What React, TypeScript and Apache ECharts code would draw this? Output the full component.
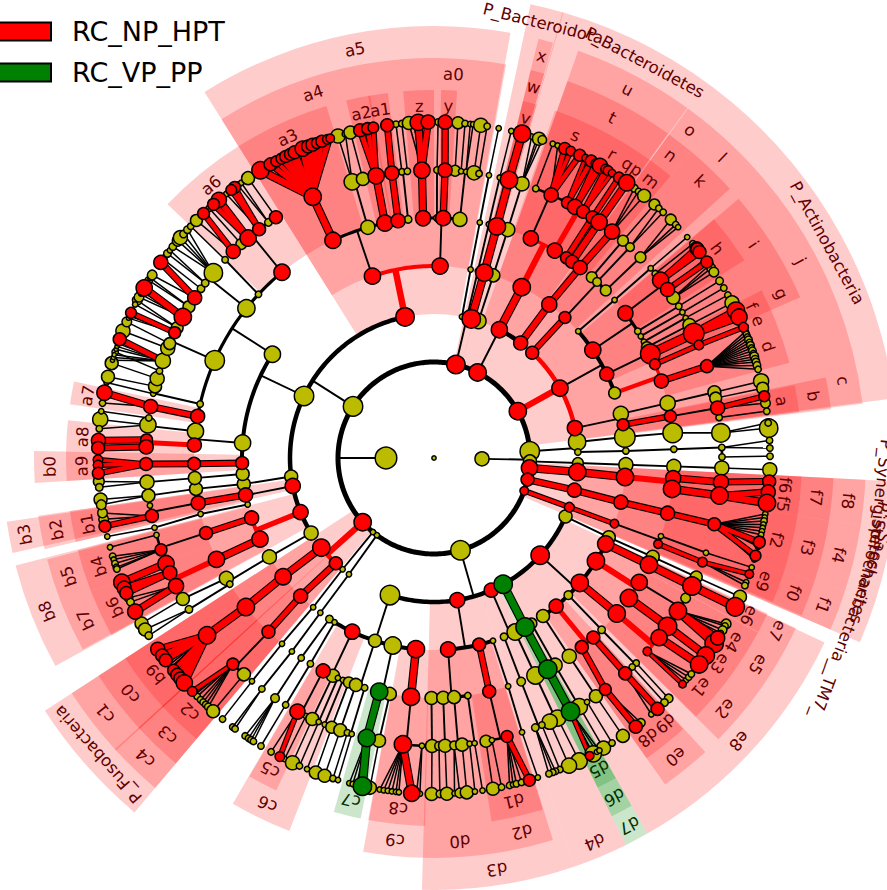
import React, { useEffect, useRef } from "react";
import * as echarts from "echarts";

type Node = { a: number; s: number; c: string; k: Node[] };
const y = (a: number, s: number, ...k: Node[]): Node => ({ a, s, c: "y", k });
const r = (a: number, s: number, ...k: Node[]): Node => ({ a, s, c: "r", k });
const g = (a: number, s: number, ...k: Node[]): Node => ({ a, s, c: "g", k });

const CLASS_A = "RC_NP_HPT";
const CLASS_B = "RC_VP_PP";
const COLORS: Record<string, string> = { y: "#bbbb00", r: "#ff0000", g: "#008000" };
const FORCED_BLACK_ARCS = [27];

// [label, level, start angle, end angle, colour key]
const phylumSectors: [string, number, number, number, string][] = [
  ["P_Bacteroidota", 2, 12, 16.2, "r"],
  ["P_Bacteroidetes", 2, 16.1, 40, "r"],
  ["P_Actinobacteria", 2, 40, 82.6, "r"],
  ["P_Synergistetes", 2, 92.9, 99, "r"],
  ["P_Spirochaetes", 2, 99, 108, "r"],
  ["P_Saccharibacteria__TM7_", 2, 108, 113.4, "r"],
  ["P_Fusobacteria", 2, 220.2, 237, "r"],
];
const classSectors: [string, number, number, number, string][] = [
  ["x", 3, 14, 16, "r"], ["u", 3, 19.5, 35.9, "r"], ["o", 3, 36, 40, "r"], ["l", 3, 40, 47.7, "r"],
  ["j", 3, 47.7, 75.8, "r"], ["c", 3, 75.8, 82.8, "r"], ["f8", 3, 92.9, 99, "r"], ["f4", 3, 99, 108, "r"],
  ["f1", 3, 108, 113.4, "r"], ["e8", 3, 115.3, 150.4, "r"], ["d7", 3, 150.4, 153.6, "g"], ["d4", 3, 153.6, 161, "r"],
  ["d3", 3, 161, 181.6, "r"], ["b8", 3, 241.2, 255.6, "r"], ["b3", 3, 257.3, 261.5, "r"], ["c1", 3, 227.4, 237, "r"],
  ["c4", 3, 220.2, 227.6, "r"], ["a5", 3, 327.9, 370.2, "r"],
];
const orderSectors: [string, number, number, number, string][] = [
  ["w", 4, 14, 16, "r"], ["t", 4, 19.5, 35.8, "r"], ["n", 4, 36, 40, "r"], ["k", 4, 40, 47.7, "r"],
  ["i", 4, 49.6, 63, "r"], ["g", 4, 63, 66.3, "r"], ["b", 4, 78.4, 83, "r"], ["f7", 4, 92.9, 99, "r"],
  ["f3", 4, 99, 108, "r"], ["f0", 4, 108, 113.2, "r"], ["e7", 4, 115.2, 118.2, "r"], ["e5", 4, 118.2, 126.8, "r"],
  ["e2", 4, 126.8, 134.7, "r"], ["e0", 4, 137.3, 144.7, "r"], ["d6", 4, 150.4, 153.6, "g"], ["d2", 4, 162.7, 170.8, "r"],
  ["d0", 4, 170.8, 181.5, "r"], ["c9", 4, 181.5, 190.2, "r"], ["c6", 4, 201.2, 210.2, "r"], ["b7", 4, 241.4, 248.8, "r"],
  ["b5", 4, 248.8, 255.3, "r"], ["b2", 4, 256.8, 261.7, "r"], ["c0", 4, 227.4, 237, "r"], ["c3", 4, 220.2, 227.6, "r"],
  ["b0", 4, 266.4, 271, "r"], ["a4", 4, 327.9, 355.4, "r"], ["a0", 4, 355.4, 370.4, "r"],
];
const familySectors: [string, number, number, number, string][] = [
  ["v", 5, 14, 16.2, "r"], ["s", 5, 19.2, 28.2, "r"], ["r", 5, 28.2, 32.5, "r"], ["q", 5, 32.5, 34.2, "r"],
  ["p", 5, 34.2, 36, "r"], ["m", 5, 36, 40, "r"], ["h", 5, 49.5, 57.5, "r"], ["f", 5, 62.9, 66, "r"],
  ["e", 5, 66, 68.1, "r"], ["d", 5, 68.1, 75, "r"], ["a", 5, 78.6, 82.8, "r"], ["f6", 5, 92.9, 96, "r"],
  ["f5", 5, 96, 99, "r"], ["f2", 5, 99, 108, "r"], ["e9", 5, 108, 113, "r"], ["e6", 5, 115, 118.2, "r"],
  ["e4", 5, 118.3, 124.8, "r"], ["e3", 5, 124.8, 126.7, "r"], ["e1", 5, 126.7, 134.6, "r"], ["d9", 5, 137.4, 140.4, "r"],
  ["d8", 5, 140.4, 144.7, "r"], ["d5", 5, 150.4, 153.6, "g"], ["d1", 5, 162.8, 171, "r"], ["c8", 5, 181.4, 190.3, "r"],
  ["c7", 5, 191.5, 195.8, "g"], ["c5", 5, 205.4, 210.1, "r"], ["b6", 5, 241.2, 248.7, "r"], ["b4", 5, 248.7, 255.5, "r"],
  ["b1", 5, 256.8, 261.7, "r"], ["c2", 5, 220.2, 227.6, "r"], ["b9", 5, 227.4, 237, "r"], ["a9", 5, 266.4, 271, "r"],
  ["a8", 5, 271, 275.9, "r"], ["a7", 5, 278.4, 282, "r"], ["a6", 5, 313.6, 327.9, "r"], ["a3", 5, 327.9, 343, "r"],
  ["a2", 5, 346.2, 350, "r"], ["a1", 5, 349.7, 352.8, "r"], ["z", 5, 355.2, 360, "r"], ["y", 5, 361.1, 363.6, "r"],
];

const bacteroidota = r(13.2, 17,
  y(11.2, 5, y(11, 5, y(11, 5, y(11, 5, y(11.1, 5))))),
  y(13.2, 5, y(13.2, 5, y(13.2, 5, y(13.2, 5, y(13.3, 5))))),
  r(15, 17, r(15.2, 16, r(15.2, 16, r(15.1, 16, r(15.2, 16))))),
  y(18, 14, y(18, 12, y(17.9, 13, y(17.8, 13, y(16.9, 5), y(17.8, 7), y(18.2, 12), y(18.8, 8))))));

const bacteroidetes = r(27, 16,
  r(27, 15, r(27.2, 16,
    r(23.8, 14,
      y(20.7, 6, y(20.7, 5)),
      r(24, 13, y(21.6, 5), r(22.9, 11), r(24, 9), r(25.7, 11)),
      r(27.6, 11, r(26.8, 7), r(27.9, 11))),
    r(30.2, 14,
      r(29.3, 14, r(28.7, 8), r(29.6, 14)),
      r(31.2, 12, r(30.7, 9), r(31.2, 9), r(32, 7))),
    r(33.5, 11, r(33.4, 12, r(33.4, 10))),
    r(35.1, 12, r(35, 15, r(35, 15))))),
  r(37, 13, r(36.9, 14, r(37.5, 13, r(38.2, 14, y(36.6, 7), y(37.5, 6), y(38.7, 12))))));

const actinobacteria = r(60.8, 16,
  r(43, 12, r(43, 11,
    y(41.1, 10, y(41, 10, y(41, 10))),
    y(42.8, 8, y(42.9, 8, y(42, 6), y(43, 6))),
    y(45.7, 10, y(45.8, 10, y(44.8, 10), y(46, 6), y(46.6, 5))))),
  r(61, 15,
    y(48.7, 5, y(48.8, 5, y(48.8, 5, y(48.9, 5)))),
    r(55.8, 15,
      r(52.9, 14,
        y(50.2, 6, y(50.4, 6)),
        r(51.9, 15, r(51.4, 12), r(51.6, 12), r(52.2, 12)),
        r(54.2, 13, r(54.3, 11), y(53.7, 5)),
        y(56.2, 12, y(55, 8), y(55.6, 8), y(56.4, 9))),
      y(58.1, 6, y(58.2, 6, y(58.2, 7))),
      y(59.5, 5, y(59.6, 5, y(59.6, 6))),
      y(61, 5, y(60.9, 5, y(61, 6)))),
    r(64.1, 13,
      y(62.5, 10, y(62.5, 12, y(62.5, 13))),
      r(64.3, 18, r(64.4, 19, r(64, 16), r(65.2, 15)))),
    y(70.2, 11,
      r(67, 10, r(66.9, 9, r(67.1, 9))),
      r(71.3, 13, r(71.4, 12,
        y(67.9, 6), y(68.4, 6), y(68.9, 6), y(69.4, 7), y(69.9, 6), y(70.4, 7), y(70.9, 6),
        y(71.4, 7), y(71.9, 6), y(72.4, 8), y(72.9, 7), y(73.4, 7), y(74, 7), y(74.7, 6))))),
  r(78, 14,
    y(76.7, 14, y(76.8, 14, y(76.8, 12, y(76.8, 14)), y(78, 11, y(78, 11)))),
    r(80, 11, r(80, 11, r(80, 13, r(79.4, 10), y(80.6, 9)), y(81.9, 6, y(82, 6))))));

const olive86 = y(86, 18,
  y(83.6, 16, y(83.7, 19, y(84, 18, y(85, 17, y(84.9, 17), y(84, 6))))),
  y(87.6, 6, y(87.9, 6, y(87.9, 6,
    y(87.9, 6, y(87, 6), y(88.3, 6)),
    y(89.8, 6, y(89.7, 6))))));
const olive92 = y(92, 12, y(92, 10, y(92, 13, y(92, 13, y(92, 13, y(92, 13))))));

const synergistetes = r(96, 15, r(95.6, 16, r(95.7, 16,
  r(94.8, 14, r(94.8, 14, r(94, 12))),
  r(97.4, 16, r(97.5, 16, r(95.8, 13), r(97.7, 16))))));
const spirochaetes = r(103, 12, r(102.9, 13, r(103.3, 13, r(103.3, 13, r(103.3, 12,
  y(99.6, 5), y(100.2, 5), y(100.8, 6), y(101.4, 5), y(102, 5), y(102.6, 5), y(103.2, 5),
  r(104.5, 11), y(105.3, 5), r(106.9, 10), y(107.6, 5))))));
const saccharibacteria = r(110, 8, r(110, 9, r(110, 8,
  y(109, 5, y(109.2, 5, y(109, 5))),
  r(111, 8, r(111.2, 9, r(110.2, 8), y(111.7, 5), y(112.3, 6))))));

const bottomClade = y(164, 18,
  y(114, 12, y(114.4, 12, y(114.3, 12, y(114.4, 11, y(114.4, 12))))),
  r(132.5, 17,
    r(116.6, 15, r(116.4, 16, r(116.4, 17, r(116.3, 17)))),
    r(122.5, 16,
      r(121.2, 15,
        r(122.1, 16, r(123.5, 17), r(122.4, 13), y(119.6, 9), y(120, 6), y(120.8, 8), y(121.4, 5)),
        y(119.1, 9)),
      r(125.7, 16, r(125.8, 17, r(126, 16)))),
    r(130.6, 16, r(130.4, 16,
      r(132.2, 8, r(132.3, 7), y(131.4, 5), y(130.7, 6), y(130, 6)),
      r(128.6, 15, r(127.9, 16)))),
    y(135.6, 8, y(135.7, 7, y(135.4, 6, y(135.7, 8)), y(136.5, 6, y(136.7, 7)))),
    r(140.5, 13,
      r(138.4, 12, r(138.4, 12, r(138.3, 12), y(139.7, 5))),
      r(142, 12, r(143.5, 11, r(143.1, 12), y(142.6, 5), y(142, 8)))),
    y(145.4, 12, y(145.7, 13, y(145.8, 12, y(145.8, 12))))),
  r(156.6, 13,
    y(149.5, 10, y(149.7, 13,
      y(149.7, 15, y(149.7, 13)),
      y(147.9, 5, y(148, 6)))),
    y(155, 15, y(155, 16,
      y(154.6, 15, y(154.4, 15)),
      y(156.3, 14, y(156.3, 14)))),
    y(158.6, 7, y(158.7, 8,
      y(158, 6, y(158, 6)),
      y(159.4, 7, y(158.8, 6), y(159.3, 6), y(160, 6))))),
  g(151.3, 17, g(151.7, 17, g(151.7, 17, g(151.7, 17, y(151.7, 15), r(152.4, 8), y(151, 5), y(150.5, 5))))),
  r(170.7, 14,
    r(175.8, 14,
      y(180.6, 12, y(180.4, 12, y(180.4, 12))),
      y(177.8, 12, y(179, 8, y(179, 7)), y(177.8, 12, y(177.8, 12))),
      y(175.2, 12, y(176, 8, y(176.5, 5), y(175.6, 9)), y(174.4, 12, y(174.4, 12))),
      y(171.9, 6, y(172.9, 5, y(173, 5)), y(171.9, 5, y(171.7, 5)))),
    r(166.4, 12, r(166.7, 12,
      y(169.6, 11, y(169.9, 12)),
      y(168.4, 5, y(168.4, 6)),
      r(165.3, 11, y(167, 6), y(166.4, 5), y(165.8, 6), y(164.9, 6), r(163.5, 11)))),
    y(162.1, 5, y(162, 5, y(162.2, 5, y(162, 5))))),
  y(197.8, 18,
    y(213, 7, y(213.6, 6, y(213.5, 8, y(214.2, 6), y(213.5, 6), y(213, 6), y(212.5, 6)))),
    y(211.2, 5, y(211, 6, y(211, 6, y(211, 6)))),
    r(205.2, 14,
      r(207.5, 13,
        r(208.3, 14, y(209, 6), r(207.3, 9)),
        y(206.4, 5, y(206.4, 5))),
      y(204.9, 12, y(205, 12, y(204.9, 13))),
      y(203.6, 5, y(203.6, 5, y(203.6, 6))),
      y(202.3, 5, y(202.3, 5, y(202.2, 5)))),
    y(197.9, 12,
      y(200.8, 10, y(200.8, 11, y(200.6, 12))),
      y(199, 12, y(199, 12, y(199, 12))),
      y(196.8, 6, y(197.5, 6, y(197.5, 6)), y(196.6, 5, y(196.6, 5)))),
    y(192.4, 16,
      g(193.2, 16, g(193.5, 16, g(192.3, 17), y(194.6, 5), y(194, 5), y(193.3, 5))),
      y(190.6, 12, y(191, 12, y(191, 12)))),
    r(185.4, 16, r(185.5, 16,
      r(186.2, 16, y(189.3, 5), y(188.6, 5), y(187.9, 5), y(187.2, 5), y(186.5, 5), y(186, 5), r(183.8, 15)),
      y(182.4, 5, y(183, 5), y(182.4, 5))))));

const tinyA = y(216.5, 5, y(216.2, 5, y(216.3, 5, y(216.3, 5, y(216.7, 6, y(216.8, 6), y(216.3, 6))))));
const tinyB = y(219.5, 5, y(219.4, 5, y(219, 5, y(219.3, 5, y(219.2, 5, y(219, 6))))));

const fusobacteria = r(228, 16,
  r(231.5, 16, r(231.8, 15, r(231.6, 16, r(232, 16,
    r(235.3, 13), r(234, 12), r(233, 12), y(232.5, 4), y(232, 4), y(231.5, 4),
    r(230.8, 11), r(229.8, 12), r(229, 12), r(228, 15))))),
  r(223, 12, r(224, 13, r(223.6, 12,
    r(224.3, 11, r(226, 9), y(225.3, 5), y(224.8, 6), y(224, 6), y(223.4, 6), y(222.8, 6), y(222.2, 7)),
    y(221.3, 12, y(221.1, 12))))));

const leftClade = y(302.5, 18,
  y(238.6, 13, y(239, 13,
    y(239.9, 13, y(240.7, 12, y(240.5, 12))),
    y(238.3, 6, y(238.3, 7, y(239.3, 12), y(238.1, 7))))),
  r(247.9, 14,
    r(251.8, 13, r(251.8, 12,
      r(251.4, 11, y(253, 6), y(252.4, 5), y(251.7, 6), y(251, 6), y(250.7, 6)),
      y(254.5, 5, y(254.6, 5)))),
    r(245, 15, r(245, 15,
      r(248.5, 15, r(248.3, 15)),
      r(246.5, 13, r(247.2, 13), r(246.3, 12)),
      r(243.6, 14, y(245.4, 8), y(244.6, 7), r(242.8, 14))))),
  r(258.8, 14,
    r(258.9, 13, r(259.2, 13, r(258.4, 12, r(258.3, 11), y(259.5, 9), y(260.6, 9)), y(260.5, 5))),
    y(256, 5, y(256.5, 5, y(256, 5, y(256.5, 5))))),
  y(262.6, 12, y(262.2, 12, y(262.6, 12, y(262.5, 12, y(262.9, 12), y(262, 9))))),
  y(295.5, 18,
    y(265.2, 12, y(265.2, 12, y(265.2, 13, y(266, 10), y(265, 7)))),
    r(268.5, 12, r(268.6, 12, r(268.8, 12, r(269.7, 9), r(268.8, 9), r(267.4, 11)))),
    y(274.5, 15,
      r(273.1, 13, r(273.6, 11, r(273, 13)), r(272.2, 13, r(271.7, 12))),
      y(276.4, 15, y(276.6, 15, y(276.6, 14), y(275, 6)), y(278, 6, y(278, 5)))),
    y(302.7, 15,
      y(283, 6,
        y(282.9, 5, y(283, 5)),
        y(284.4, 12, y(284, 12)),
        y(286, 13, y(286.4, 12)),
        y(287.6, 6, y(288.4, 6))),
      r(280, 13, r(280.3, 13, r(281.2, 14), y(279.4, 6))),
      y(294, 18,
        y(289.7, 14, y(286.9, 4), y(287.4, 4), y(287.9, 4), y(288.9, 4), y(289.4, 4), r(290.7, 12), y(289.9, 4)),
        y(292.4, 13, y(292.2, 13)),
        y(293.4, 11, y(293.9, 9)),
        r(295.8, 11, r(295.6, 10), y(294.6, 4), y(295, 4)),
        y(296.9, 11, y(298, 9), y(297.2, 5)),
        r(299.3, 16, r(300.4, 15), y(298.6, 9), y(299.2, 4), y(299.7, 4)),
        y(301.7, 11, y(301.9, 7), y(302.4, 5)),
        r(303.8, 13, r(305.6, 13), y(303, 9))),
      y(308.6, 16,
        y(306, 7, y(306.3, 7)),
        y(307.4, 7, y(307.5, 7), y(308.2, 5)),
        y(310, 17, y(309, 7), y(310.3, 10), y(311, 13), y(311.8, 7), y(312.8, 7))),
      y(313, 6, y(313.5, 6, y(313.6, 6))),
      r(320.7, 15,
        r(315.8, 13, r(316.7, 11), y(315, 11)),
        y(318, 10, y(318, 6)),
        r(319.8, 15, r(320.2, 14), r(319, 11)),
        r(322.6, 12, r(323.6, 11), r(322.9, 10), y(321.8, 5)),
        y(324.9, 7, y(324.3, 6), y(325, 5)),
        r(326.7, 12, y(326.4, 12))))),
  r(348.4, 17,
    r(341.3, 15,
      r(335.1, 15, r(335.1, 16,
        r(328.9, 16), r(330.9, 12), r(332, 10), r(333, 10), r(333.8, 11), r(334.7, 11), r(335.5, 12),
        r(337, 14), r(338, 12), r(338.8, 12), r(339.6, 10), r(340.5, 11), r(341.5, 9), r(342, 8))),
      y(344, 13,
        y(343.5, 15, y(343.4, 13), y(344.7, 6)),
        y(345.7, 12, y(345.6, 12))),
      r(348.2, 15, r(348.4, 15, r(347.3, 12), r(348.6, 11), r(349.6, 10))),
      r(351.4, 13, r(351.6, 13, r(352, 12))),
      y(353.8, 7, y(353.6, 6, y(353.5, 6)), y(354.7, 6, y(354.5, 6)))),
    r(1.8, 15,
      r(357.4, 14, r(357.6, 15, r(357.3, 15), r(359, 13), y(355.7, 12), y(356.5, 5))),
      y(0.7, 6, y(0.6, 6, y(0.7, 6))),
      r(2.2, 14, r(2.2, 13, r(1.9, 13))),
      y(6.2, 13,
        y(4.2, 10, y(4.1, 11)),
        y(5.4, 5, y(5.3, 6)),
        y(6.4, 5, y(6.2, 5), y(6.7, 5)),
        y(8, 13, y(8, 13)),
        y(9, 6, y(9.1, 6))))));

const tree = y(0, 4,
  y(91, 13, y(13.2, 0), bacteroidetes, actinobacteria, olive86, olive92, synergistetes, spirochaetes, saccharibacteria, y(164, 0)),
  y(270, 20, bottomClade, tinyA, tinyB, fusobacteria, leftClade, bacteroidota));

type Seg = { pts: [number, number][]; w: number; color: string };
const blackSegs: Seg[] = [];
const outlineSegs: Seg[] = [];
const colorSegs: Seg[] = [];
const marks: Record<string, [number, number, number][]> = { y: [], r: [], g: [] };
const ARC_WIDTH: Record<number, number> = { 2: 5, 3: 4.5, 4: 4, 5: 3.2, 6: 2.6 };
const near = (a: number, ref: number) => a + 360 * Math.round((ref - a) / 360);
const arcPts = (lev: number, a0: number, a1: number) => {
  const n = Math.max(2, Math.ceil(Math.abs(a1 - a0)) + 1);
  const pts: [number, number][] = [];
  for (let i = 0; i < n; i++) pts.push([lev, a0 + ((a1 - a0) * i) / (n - 1)]);
  return pts;
};
const colored = (c: string) => c !== "y";
const pushColored = (pts: [number, number][], size: number, c: string) => {
  const w = 0.4 * size;
  outlineSegs.push({ pts, w: w + 2.2, color: "#000" });
  colorSegs.push({ pts, w, color: COLORS[c] });
};

function walk(p: Node, lev: number, ang: number) {
  if (p.s > 0) marks[p.c].push([lev, ((ang % 360) + 360) % 360, p.s]);
  const kids = p.k.map((k) => ({ n: k, a: near(k.a, ang) }));
  kids.forEach((k) => walk(k.n, lev + 1, k.a));
  if (!kids.length || lev === 0) return;
  if (lev >= 6) {
    kids.forEach((k) => {
      const pts: [number, number][] = [[lev, ang], [lev + 1, k.a]];
      if (colored(k.n.c)) pushColored(pts, k.n.s, k.n.c);
      else blackSegs.push({ pts, w: 1.5, color: "#000" });
    });
    return;
  }
  if (kids.length === 1) {
    const k = kids[0];
    const pts: [number, number][] = [[lev, ang], [lev + 1, k.a]];
    if (colored(k.n.c)) pushColored(pts, k.n.s, k.n.c);
    else blackSegs.push({ pts, w: 1.9, color: "#000" });
    return;
  }
  const first = kids[0].n.c;
  const same = colored(first) && kids.every((k) => k.n.c === first) && !FORCED_BLACK_ARCS.includes(p.a);
  const all = kids.map((k) => k.a).concat(ang);
  const lo = Math.min(...all);
  const hi = Math.max(...all);
  const arc = arcPts(lev + 1, lo, hi);
  const stem: [number, number][] = [[lev, ang], [lev + 1, ang]];
  if (same) {
    colorSegs.push({ pts: arc, w: ARC_WIDTH[lev + 1], color: COLORS[first] });
    colorSegs.push({ pts: stem, w: 0.38 * p.s, color: COLORS[first] });
  } else {
    blackSegs.push({ pts: arc, w: ARC_WIDTH[lev + 1], color: "#000" });
    blackSegs.push({ pts: stem, w: 1.9, color: "#000" });
  }
}
walk(tree, 0, 0);
const allSegs = [...blackSegs, ...outlineSegs, ...colorSegs];
const sectors = [...phylumSectors, ...classSectors, ...orderSectors, ...familySectors];
const outerLevel = (lev: number) => (368 + (5 - lev) * 32) / 48;

export default function App() {
  const ref = useRef<HTMLDivElement>(null);
  useEffect(() => {
    const chart = echarts.init(ref.current!, undefined, { renderer: "svg" });
    const fill: Record<string, string> = { r: "rgba(255,0,0,0.2)", g: "rgba(0,128,0,0.2)" };
    const ink: Record<string, string> = { r: "#600000", g: "#003000" };
    const scatter = (name: string, key: string, z: number) => ({
      type: "scatter",
      name,
      coordinateSystem: "polar",
      data: marks[key],
      symbolSize: (v: number[]) => v[2] * 1.08,
      itemStyle: { color: COLORS[key], opacity: 1, borderColor: "#000", borderWidth: 1.5 },
      silent: true,
      z,
    });
    chart.setOption({
      animation: false,
      backgroundColor: "#fff",
      polar: { center: [434, 458], radius: [0, 480] },
      radiusAxis: { type: "value", min: 0, max: 10, show: false },
      angleAxis: { type: "value", min: 0, max: 360, startAngle: 90, clockwise: true, show: false },
      legend: {
        orient: "vertical",
        left: -12,
        top: 18,
        padding: 0,
        itemWidth: 62,
        itemHeight: 18,
        itemGap: 14,
        data: [
          { name: CLASS_A, icon: "rect" },
          { name: CLASS_B, icon: "rect" },
        ],
        itemStyle: { borderColor: "#000", borderWidth: 2 },
        textStyle: { fontSize: 27, fontFamily: "DejaVu Sans", color: "#000", padding: [0, 0, 0, 16] },
      },
      series: [
        {
          type: "custom",
          coordinateSystem: "polar",
          silent: true,
          z: 1,
          data: sectors.map((s) => [s[1], s[2]]),
          renderItem: (params: any, api: any) => {
            const s = sectors[params.dataIndex];
            const c = api.coord([0, 0]);
            const unit = Math.hypot(api.coord([1, 0])[0] - c[0], api.coord([1, 0])[1] - c[1]);
            return {
              type: "sector",
              silent: true,
              shape: {
                cx: c[0],
                cy: c[1],
                r0: s[1] * unit,
                r: outerLevel(s[1]) * unit,
                startAngle: ((s[2] - 90) * Math.PI) / 180,
                endAngle: ((s[3] - 90) * Math.PI) / 180,
                clockwise: true,
              },
              style: { fill: fill[s[4]], stroke: null },
            };
          },
        },
        {
          type: "custom",
          coordinateSystem: "polar",
          silent: true,
          z: 2,
          data: allSegs.map((s) => [s.pts[0][0], s.pts[0][1]]),
          renderItem: (params: any, api: any) => {
            const s = allSegs[params.dataIndex];
            return {
              type: "polyline",
              silent: true,
              shape: { points: s.pts.map((p) => api.coord(p)) },
              style: { stroke: s.color, lineWidth: s.w, fill: null, lineCap: "butt", lineJoin: "round" },
            };
          },
        },
        scatter("Other", "y", 3),
        scatter(CLASS_A, "r", 4),
        scatter(CLASS_B, "g", 5),
        {
          type: "custom",
          coordinateSystem: "polar",
          silent: true,
          z: 6,
          data: sectors.map((s) => [outerLevel(s[1]), s[2]]),
          renderItem: (params: any, api: any) => {
            const s = sectors[params.dataIndex];
            const mid = (s[2] + s[3]) / 2;
            const p = api.coord([outerLevel(s[1]) - 16 / 48, mid]);
            return {
              type: "text",
              silent: true,
              x: p[0],
              y: p[1],
              rotation: (-mid * Math.PI) / 180,
              style: {
                text: s[0],
                fill: ink[s[4]],
                font: "16.5px 'DejaVu Sans'",
                align: "center",
                verticalAlign: "middle",
              },
            };
          },
        },
      ],
    });
    return () => chart.dispose();
  }, []);
  return <div ref={ref} style={{ position: "fixed", left: 0, top: 0, width: 887, height: 890 }} />;
}
